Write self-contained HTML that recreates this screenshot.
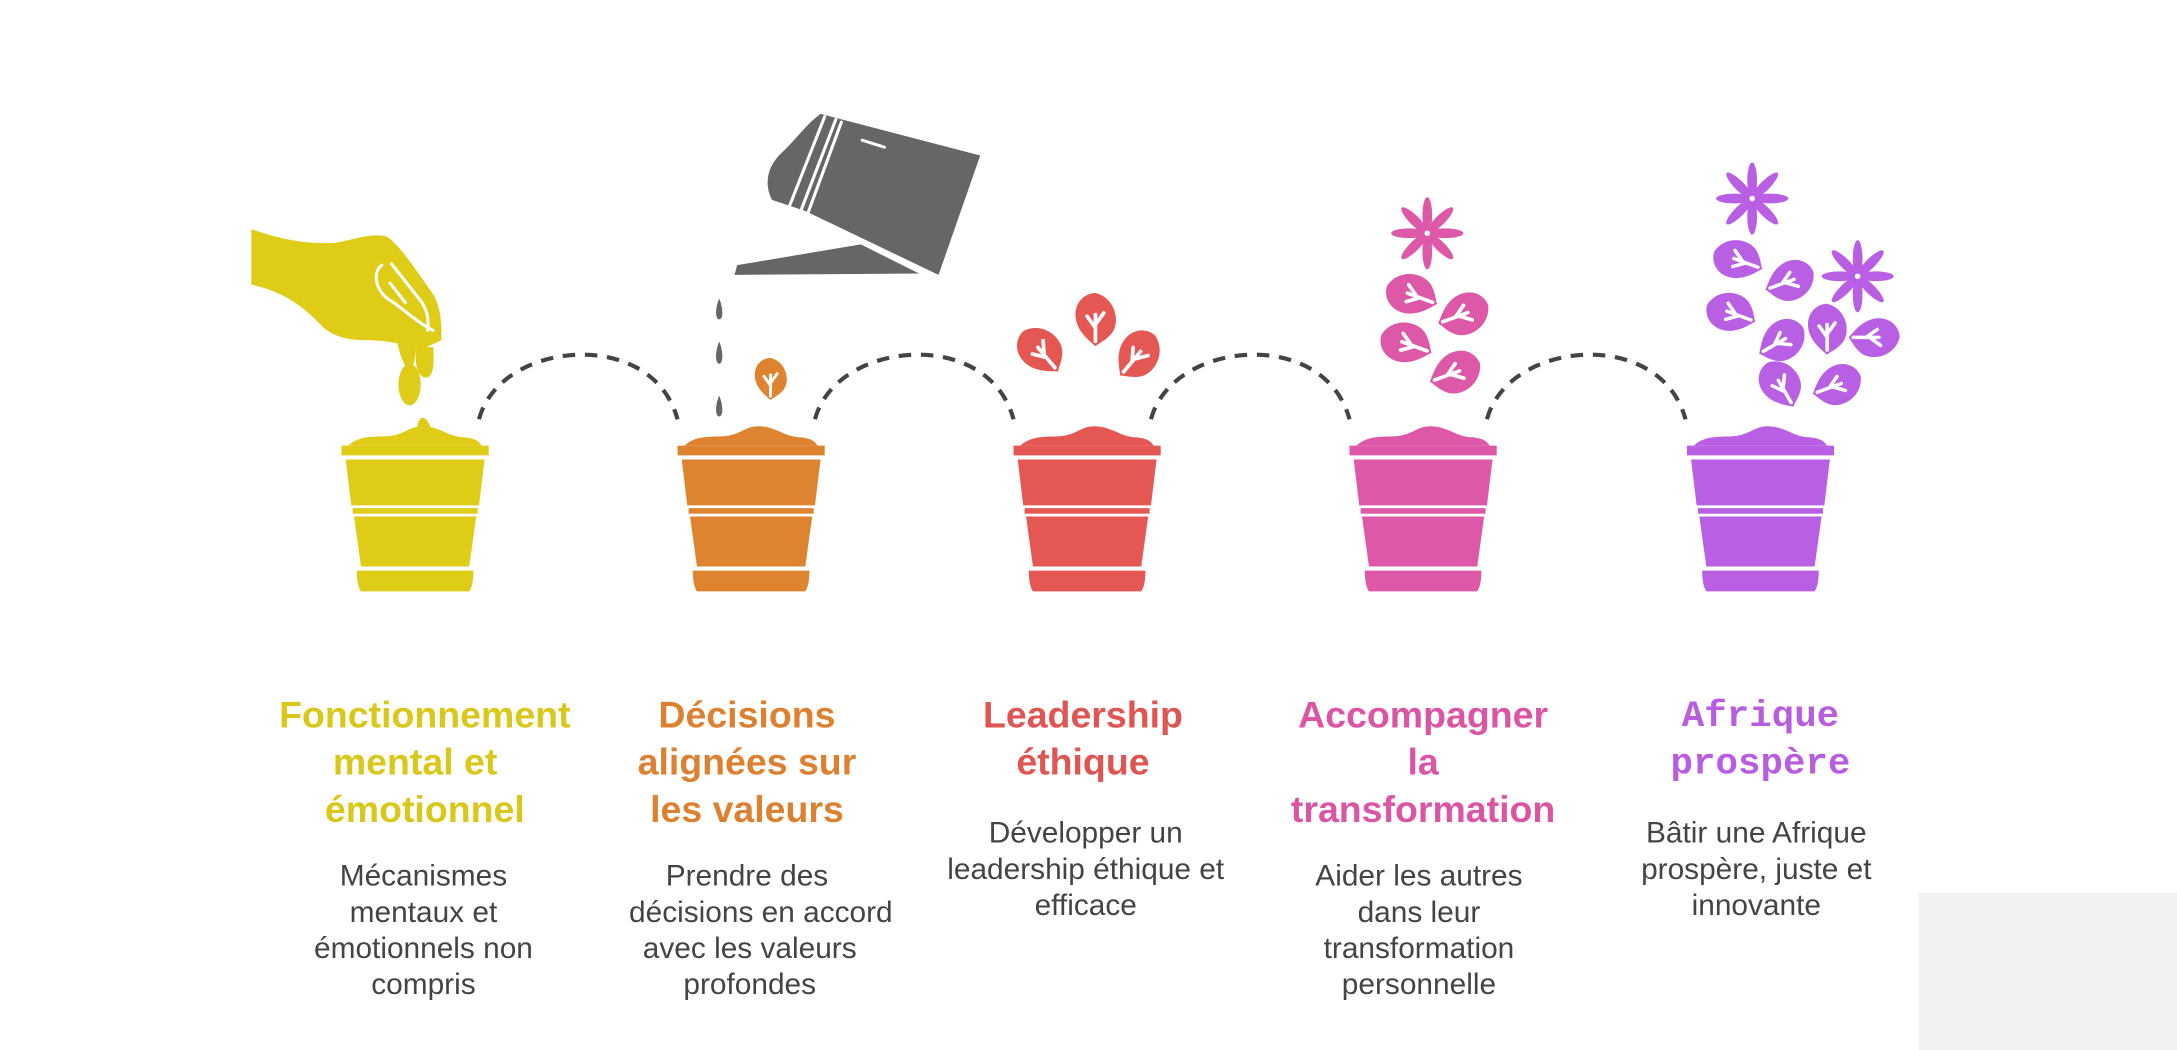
<!DOCTYPE html>
<html><head><meta charset="utf-8"><style>
html,body{margin:0;padding:0;background:#fff;}
svg{display:block}
.t{font-family:"Liberation Sans",sans-serif;font-weight:bold;font-size:27px;text-anchor:middle}
.d{font-family:"Liberation Sans",sans-serif;font-size:21.5px;fill:#444;text-anchor:middle}
.m{font-family:"Liberation Mono",monospace;font-weight:bold;font-size:27px;text-anchor:middle}
</style></head><body>
<svg width="2177" height="1050" viewBox="0 0 1568 756.3" preserveAspectRatio="none">
<defs>
<g id="pot">
<path d="M-48,321 C-40,313 -28,315 -18,314 C-8,313 -4,307 5,307 C18,307 24,315 36,315 C44,316 46,318 48,321Z"/>
<rect x="-53" y="321" width="106" height="7"/>
<path d="M-50,331 L50,331 L46,364 L-46,364Z"/>
<rect x="-45" y="366" width="90" height="4"/>
<path d="M-44,372 L44,372 L39,408 L-39,408Z"/>
<path d="M-42,411 L42,411 C42,418 41,423 39,426 L-39,426 C-41,423 -42,418 -42,411Z"/>
</g>
<g id="leaf">
<path d="M0,-15 C12,-12 15,2 10,9 C6,14 2,15 0,17 C-3,14 -12,8 -12,-2 C-12,-10 -6,-15 0,-15Z"/>
<path d="M0,14 L0,-2 M0,6 L-5,-1 M0,4 L5,-3" stroke="#fff" stroke-width="2.2" fill="none" stroke-linecap="round"/>
</g>
<g id="flower">
<ellipse cx="0" cy="-13" rx="3.5" ry="13"/>
<ellipse cx="0" cy="-13" rx="3.5" ry="13" transform="rotate(45)"/>
<ellipse cx="0" cy="-13" rx="3.5" ry="13" transform="rotate(90)"/>
<ellipse cx="0" cy="-13" rx="3.5" ry="13" transform="rotate(135)"/>
<ellipse cx="0" cy="-13" rx="3.5" ry="13" transform="rotate(180)"/>
<ellipse cx="0" cy="-13" rx="3.5" ry="13" transform="rotate(225)"/>
<ellipse cx="0" cy="-13" rx="3.5" ry="13" transform="rotate(270)"/>
<ellipse cx="0" cy="-13" rx="3.5" ry="13" transform="rotate(315)"/>
<circle r="2" fill="#fff"/>
</g>
</defs>

<rect x="1382" y="643" width="186" height="114" fill="#f2f2f2"/>

<g fill="none" stroke="#444" stroke-width="3" stroke-dasharray="9,7">
<path d="M345,302 C360,245 470,235 488,302"/>
<path d="M587,302 C602,245 712,235 730,302"/>
<path d="M829,302 C844,245 954,235 972,302"/>
<path d="M1071,302 C1086,245 1196,235 1214,302"/>
</g>

<use href="#pot" x="299" fill="#DFCC17"/>
<use href="#pot" x="541" fill="#DE8430"/>
<use href="#pot" x="783" fill="#E55753"/>
<use href="#pot" x="1025" fill="#DD58A7"/>
<use href="#pot" x="1268" fill="#B95FE3"/>

<g fill="#DFCC17">
<path d="M181,165 C200,172 220,176 240,175 C255,173 265,168 277,170 C285,172 300,195 312,212 C318,222 318,235 318,245 L303,252 C290,248 280,245 262,245 C250,245 240,242 233,236 C220,222 205,210 181,205Z"/>
<path d="M286,246 C288,255 290,262 295,268 L298,262 L300,250Z"/>
<path d="M300,250 C298,262 301,272 307,272 C312,272 313,262 312,250Z"/>
<ellipse cx="295" cy="277" rx="8" ry="15"/>
<path d="M299,320 C300,305 302,300 305,301 C309,302 312,312 314,320Z"/>
</g>
<path d="M275,191 C268,196 270,210 282,217 C290,222 300,232 312,238 M282,190 L304,218 C308,225 309,230 308,238 M281,204 L292,218" stroke="#fff" stroke-width="2.2" fill="none" stroke-linecap="round"/>

<g fill="#666">
<path d="M591,82 L706,112 L676,198 L580,152 L556,144 C550,132 553,120 562,111 C574,100 580,90 591,82Z"/>
<path d="M620,176 L662,197 L529,198 L531,191Z"/>
<path d="M518,215 C521,222 521,230 518,230 C515,230 515,222 518,215Z"/>
<path d="M518,246 C521,253 521,262 518,262 C515,262 515,253 518,246Z"/>
<path d="M518,285 C521,292 521,300 518,300 C515,300 515,292 518,285Z"/>
</g>
<path d="M594,84 L568,150 M602,86 L576,154 M606,88 L581,156 M621,101 L637,106" stroke="#fff" stroke-width="2.2" stroke-linecap="round"/>

<use href="#leaf" fill="#DE8430" transform="translate(555,272) scale(0.95)"/>
<use href="#leaf" fill="#E55753" transform="translate(749,252) rotate(-40) scale(1.2)"/>
<use href="#leaf" fill="#E55753" transform="translate(789,229) scale(1.2)"/>
<use href="#leaf" fill="#E55753" transform="translate(820,255) rotate(40) scale(1.2)"/>

<use href="#flower" fill="#DD58A7" transform="translate(1028,168)"/>
<use href="#leaf" fill="#DD58A7" transform="translate(1016,212) rotate(-70) scale(1.2)"/>
<use href="#leaf" fill="#DD58A7" transform="translate(1055,226) rotate(70) scale(1.2)"/>
<use href="#leaf" fill="#DD58A7" transform="translate(1012,247) rotate(-70) scale(1.2)"/>
<use href="#leaf" fill="#DD58A7" transform="translate(1049,268) rotate(70) scale(1.2)"/>

<use href="#flower" fill="#B95FE3" transform="translate(1262,143)"/>
<use href="#flower" fill="#B95FE3" transform="translate(1338,199)"/>
<use href="#leaf" fill="#B95FE3" transform="translate(1251,187) rotate(-70) scale(1.15)"/>
<use href="#leaf" fill="#B95FE3" transform="translate(1290,202) rotate(70) scale(1.15)"/>
<use href="#leaf" fill="#B95FE3" transform="translate(1246,225) rotate(-70) scale(1.15)"/>
<use href="#leaf" fill="#B95FE3" transform="translate(1284,245) rotate(60) scale(1.15)"/>
<use href="#leaf" fill="#B95FE3" transform="translate(1316,236) scale(1.15)"/>
<use href="#leaf" fill="#B95FE3" transform="translate(1351,243) rotate(90) scale(1.15)"/>
<use href="#leaf" fill="#B95FE3" transform="translate(1282,276) rotate(-30) scale(1.15)"/>
<use href="#leaf" fill="#B95FE3" transform="translate(1324,277) rotate(70) scale(1.15)"/>

<text class="t" fill="#D9C71A"><tspan x="306" y="524">Fonctionnement</tspan><tspan x="299" y="558">mental et</tspan><tspan x="306" y="592">émotionnel</tspan></text>
<text class="d"><tspan x="305" y="638">Mécanismes</tspan><tspan x="305" y="664">mentaux et</tspan><tspan x="305" y="690">émotionnels non</tspan><tspan x="305" y="716">compris</tspan></text>

<text class="t" fill="#DD8130"><tspan x="538" y="524">Décisions</tspan><tspan x="538" y="558">alignées sur</tspan><tspan x="538" y="592">les valeurs</tspan></text>
<text class="d"><tspan x="538" y="638">Prendre des</tspan><tspan x="548" y="664">décisions en accord</tspan><tspan x="540" y="690">avec les valeurs</tspan><tspan x="540" y="716">profondes</tspan></text>

<text class="t" fill="#E05451"><tspan x="780" y="524">Leadership</tspan><tspan x="780" y="558">éthique</tspan></text>
<text class="d"><tspan x="782" y="607">Développer un</tspan><tspan x="782" y="633">leadership éthique et</tspan><tspan x="782" y="659">efficace</tspan></text>

<text class="t" fill="#DC55A5"><tspan x="1025" y="524">Accompagner</tspan><tspan x="1025" y="558">la</tspan><tspan x="1025" y="592">transformation</tspan></text>
<text class="d"><tspan x="1022" y="638">Aider les autres</tspan><tspan x="1022" y="664">dans leur</tspan><tspan x="1022" y="690">transformation</tspan><tspan x="1022" y="716">personnelle</tspan></text>

<text class="m" fill="#B85CE0"><tspan x="1268" y="523">Afrique</tspan><tspan x="1268" y="557">prospère</tspan></text>
<text class="d"><tspan x="1265" y="607">Bâtir une Afrique</tspan><tspan x="1265" y="633">prospère, juste et</tspan><tspan x="1265" y="659">innovante</tspan></text>
</svg>
</body></html>
